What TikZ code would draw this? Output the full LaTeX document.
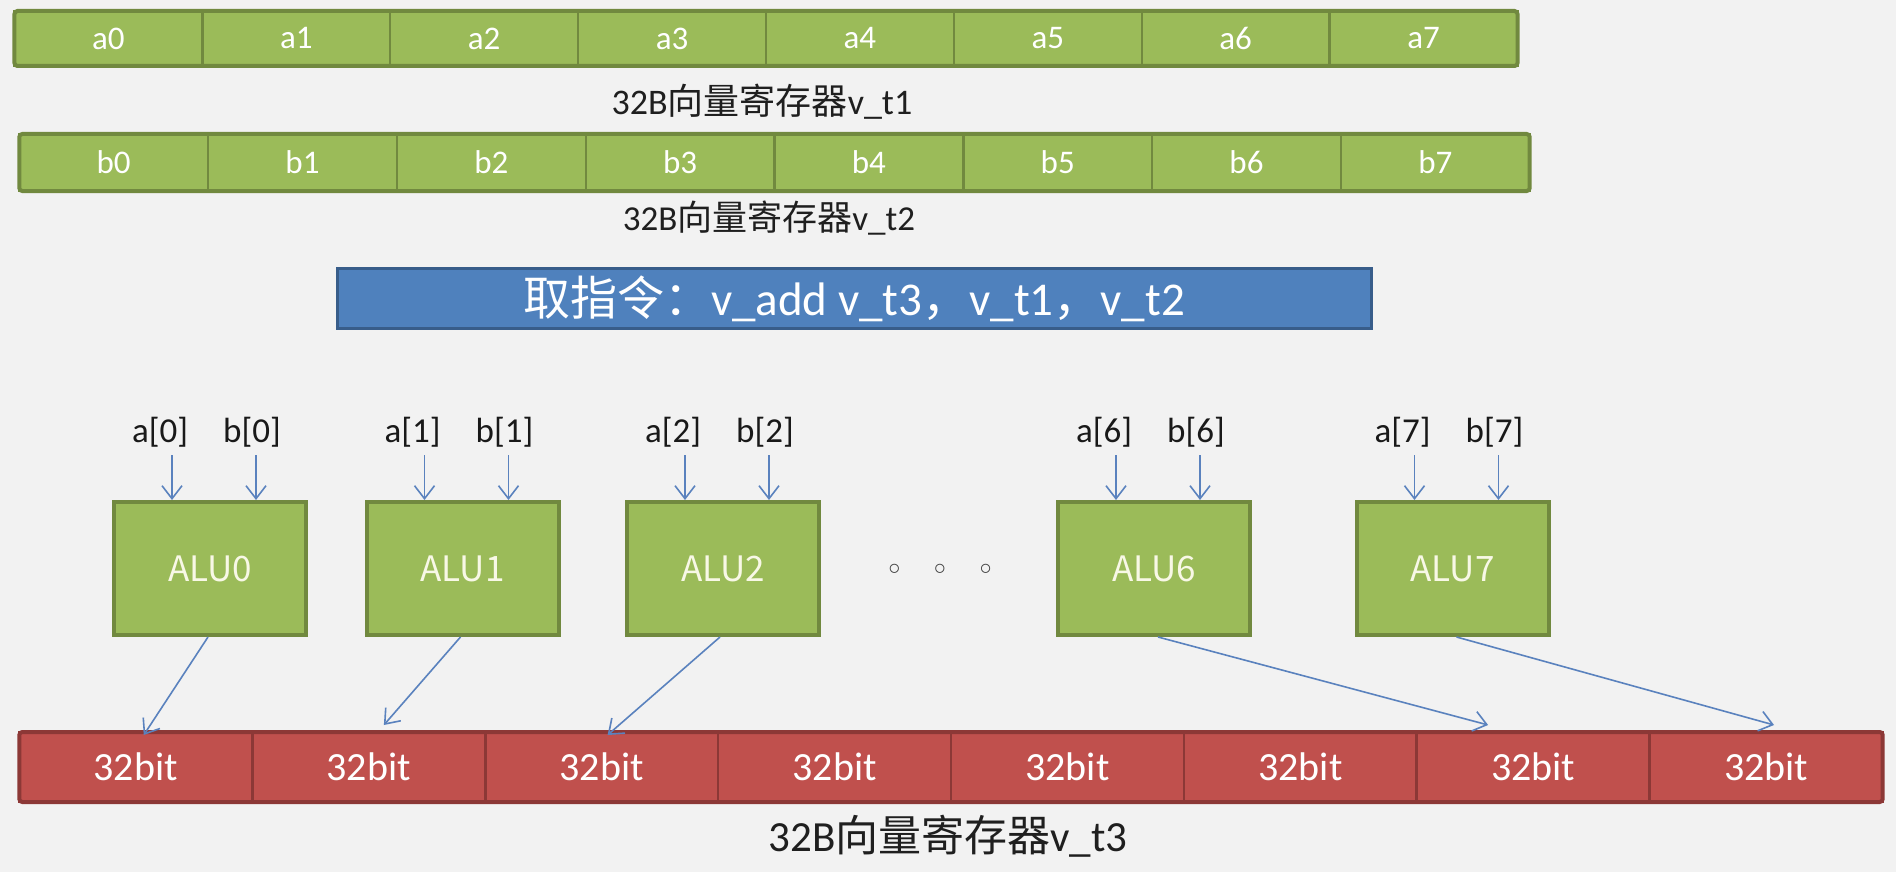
\documentclass[tikz,border=0pt]{standalone}
\usepackage{fontspec}
\setmainfont{Carlito}
\newfontfamily\cjk{Noto Sans CJK SC}
\newfontfamily\dejavu{DejaVu Sans}
\usetikzlibrary{arrows.meta}
\definecolor{bgc}{HTML}{F2F2F2}
\definecolor{gfill}{HTML}{9BBB59}
\definecolor{gline}{HTML}{71893F}
\definecolor{bfill}{HTML}{4F81BD}
\definecolor{bline}{HTML}{385D8A}
\definecolor{rfill}{HTML}{C0504D}
\definecolor{rline}{HTML}{8C3836}
\definecolor{arrc}{HTML}{5A82BE}
\definecolor{alutext}{HTML}{F8F8E6}
\begin{document}
\begin{tikzpicture}[x=0.5pt,y=-0.5pt,
  gcellA/.style={draw=gline, line width=1.2pt, fill=gfill, text=white, inner sep=0pt, outer sep=0pt,
    minimum width=93.94pt, minimum height=27.5pt, font=\fontsize{16.5pt}{18pt}\selectfont},
  gcellB/.style={gcellA, minimum width=94.4pt, minimum height=28.5pt},
  rcell/.style={draw=rline, line width=1.4pt, fill=rfill, text=white, inner sep=0pt, outer sep=0pt,
    minimum width=116.46pt, minimum height=35pt, font=\fontsize{20pt}{22pt}\selectfont},
  gframe/.style={draw=gline, line width=2pt, rounded corners=1.5pt},
  rframe/.style={draw=rline, line width=2pt, rounded corners=1.5pt},
  caption/.style={inner sep=0pt, text=black!88},
  alubox/.style={draw=gline, line width=2pt, fill=gfill, text=alutext, inner sep=0pt,
    minimum width=96pt, minimum height=66.5pt, font=\cjk\fontsize{17.5pt}{19pt}\selectfont},
  lbl/.style={inner sep=0pt, text=black!90, font=\fontsize{17.5pt}{19pt}\selectfont},
  arr/.style={draw=arrc, line width=0.8pt, -{Straight Barb[length=6.5pt,width=10pt]}},
]
\useasboundingbox (0,0) rectangle (1896,872);
\fill[bgc] (0,0) rectangle (1896,872);

% register v_t1
\foreach \i in {0,...,7} {
  \node[gcellA] (a\i) at ({14.5+187.875*(\i+0.5)}, 38.5) {a\i};
}
\draw[gframe] (a0.north west) rectangle (a7.south east);
\node[caption, font=\fontsize{18pt}{20pt}\selectfont] (cap1) at (762,102) {32B{\cjk 向量寄存器}v\_t1};

% register v_t2
\foreach \i in {0,...,7} {
  \node[gcellB] (b\i) at ({19.3+188.8*(\i+0.5)}, 162.5) {b\i};
}
\draw[gframe] (b0.north west) rectangle (b7.south east);
\node[caption, font=\fontsize{17.5pt}{19pt}\selectfont] (cap2) at (769,218) {32B{\cjk 向量寄存器}v\_t2};

% instruction bar
\node[draw=bline, line width=1.5pt, fill=bfill, text=white, inner sep=0pt,
      minimum width=517pt, minimum height=30pt, font=\fontsize{23.5pt}{26pt}\selectfont]
  (instr) at (854,298.5) {{\cjk 取指令：}v\_add v\_t3{\cjk ，}v\_t1{\cjk ，}v\_t2};

% register v_t3
\foreach \i in {0,...,7} {
  \node[rcell] (r\i) at ({19.3+232.925*(\i+0.5)}, 767) {32bit};
}
\draw[rframe] (r0.north west) rectangle (r7.south east);
\node[caption, font=\fontsize{21.5pt}{23pt}\selectfont] (cap3) at (948,836) {32B{\cjk 向量寄存器}v\_t3};

% ALUs
\foreach \n/\cx in {0/210, 1/462.5, 2/723, 6/1154, 7/1452.5} {
  \node[alubox] (alu\n) at (\cx, 568.5) {ALU\n};
  \node[lbl] (la\n) at (\cx-50, 432) {a[\n]};
  \node[lbl] (lb\n) at (\cx+42, 432) {b[\n]};
  \draw[arr] ([xshift=6pt,yshift=-11.5pt]la\n.center) -- ([xshift=-19pt]alu\n.north);
  \draw[arr] ([xshift=2pt,yshift=-11.5pt]lb\n.center) -- ([xshift=23pt]alu\n.north);
}

\node[inner sep=0pt, text=black!75, font=\dejavu\bfseries\fontsize{13pt}{14pt}\selectfont] (dots) at (940,571.7)
  {◦\hspace{14.5pt}◦\hspace{14.5pt}◦};

% outputs
\draw[arr] ([xshift=-1pt]alu0.south) -- ([xshift=4pt,yshift=-1.5pt]r0.north);
\draw[arr] ([xshift=-1pt]alu1.south) -- ([xshift=7.6pt,yshift=3.5pt]r1.north);
\draw[arr] ([xshift=-1.5pt]alu2.south) -- ([xshift=3pt,yshift=-1.5pt]r2.north);
\draw[arr] ([xshift=2pt]alu6.south) -- ([xshift=-22.6pt,yshift=3.5pt]r6.north);
\draw[arr] ([xshift=2pt]alu7.south) -- ([xshift=3.9pt,yshift=3.5pt]r7.north);
\end{tikzpicture}
\end{document}
